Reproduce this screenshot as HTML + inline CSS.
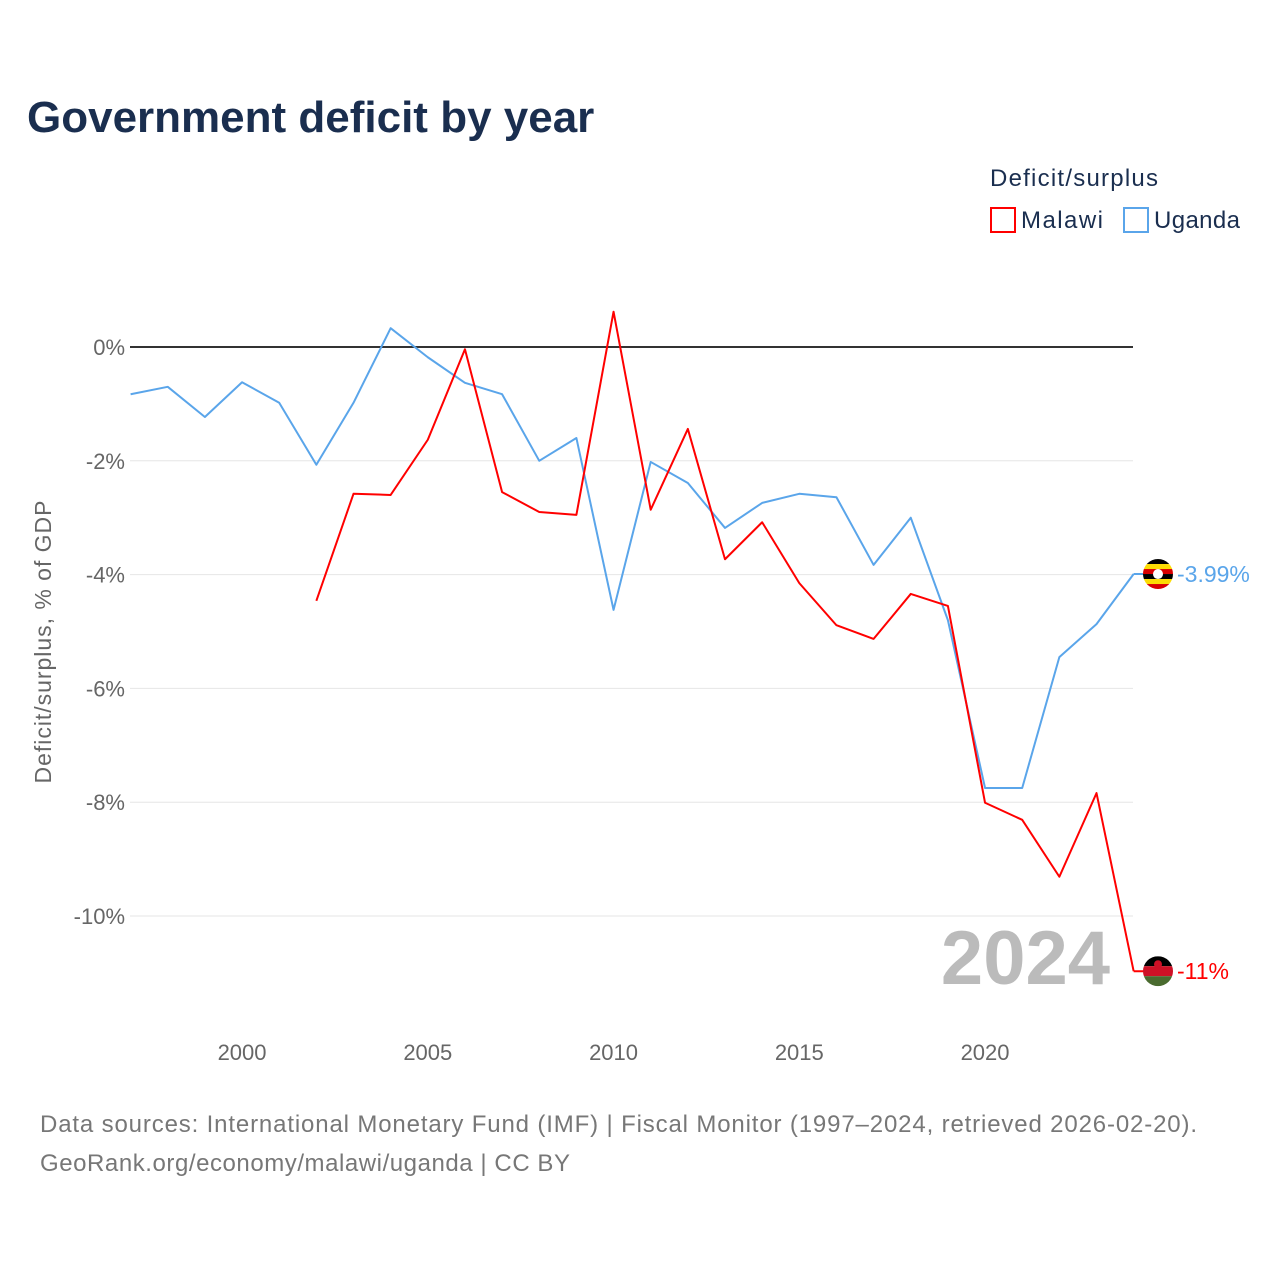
<!DOCTYPE html>
<html><head><meta charset="utf-8"><style>
body{margin:0;background:#fff;font-family:"Liberation Sans",sans-serif;}
svg text{font-family:"Liberation Sans",sans-serif;}
</style></head><body>
<svg id="chart" width="1280" height="1280" viewBox="0 0 1280 1280">
<text x="27" y="132" font-size="44" font-weight="bold" fill="#1a2e4f">Government deficit by year</text>
<text x="990" y="186" font-size="24" fill="#1a2e4f" textLength="168">Deficit/surplus</text>
<g><rect x="991" y="208" width="24" height="24" fill="none" stroke="#ff0000" stroke-width="2"/><text x="1021" y="228" font-size="24" fill="#1a2e4f" textLength="82">Malawi</text></g>
<g><rect x="1124" y="208" width="24" height="24" fill="none" stroke="#5aa5ea" stroke-width="2"/><text x="1154" y="228" font-size="24" fill="#1a2e4f" textLength="86">Uganda</text></g>
<text transform="translate(51,642) rotate(-90)" text-anchor="middle" font-size="23" fill="#666" textLength="283">Deficit/surplus, % of GDP</text>
<g id="grid"></g><g id="ticks"></g>
<text x="1110" y="984" text-anchor="end" font-size="76" font-weight="bold" fill="#bbb">2024</text>
<g id="series"></g>
<text x="40" y="1132" font-size="24" fill="#777" textLength="1157">Data sources: International Monetary Fund (IMF) | Fiscal Monitor (1997–2024, retrieved 2026-02-20).</text>
<text x="40" y="1171" font-size="24" fill="#777" textLength="530">GeoRank.org/economy/malawi/uganda | CC BY</text>
</svg>
<script>
const ugandaYears=[1997,1998,1999,2000,2001,2002,2003,2004,2005,2006,2007,2008,2009,2010,2011,2012,2013,2014,2015,2016,2017,2018,2019,2020,2021,2022,2023,2024];
const ugandaValues=[-0.83,-0.70,-1.23,-0.62,-0.98,-2.07,-0.98,0.33,-0.18,-0.63,-0.83,-2.0,-1.6,-4.62,-2.02,-2.39,-3.18,-2.74,-2.58,-2.64,-3.83,-3.0,-4.8,-7.75,-7.75,-5.45,-4.87,-3.99];
const malawiYears=[2002,2003,2004,2005,2006,2007,2008,2009,2010,2011,2012,2013,2014,2015,2016,2017,2018,2019,2020,2021,2022,2023,2024];
const malawiValues=[-4.46,-2.58,-2.6,-1.63,-0.04,-2.55,-2.9,-2.95,0.62,-2.86,-1.44,-3.73,-3.08,-4.15,-4.89,-5.13,-4.34,-4.55,-8.01,-8.31,-9.31,-7.84,-10.97];
const yTicks=[0,-2,-4,-6,-8,-10];
const xTicks=[2000,2005,2010,2015,2020];
const NS="http://www.w3.org/2000/svg";
const x=v=>130.6+(v-1997)*37.15;
const y=v=>347-v*56.9;
function mk(tag,attrs,parent){const e=document.createElementNS(NS,tag);for(const k in attrs)e.setAttribute(k,attrs[k]);parent.appendChild(e);return e;}
const grid=document.getElementById('grid'),ticks=document.getElementById('ticks'),series=document.getElementById('series');
yTicks.forEach(t=>{
 const l=mk('line',{x1:130,x2:1133,y1:y(t),y2:y(t),stroke:t===0?'#333':'#e6e6e6','stroke-width':t===0?2:1},grid);
 
 
 const tx=mk('text',{x:125,y:y(t)+8,'text-anchor':'end','font-size':22,fill:'#666'},ticks);
 tx.textContent=t+'%';
 
 
});
xTicks.forEach(t=>{
 const tx=mk('text',{x:x(t),y:1060,'text-anchor':'middle','font-size':22,fill:'#666'},ticks);
 tx.textContent=t;
 
 
});
function draw(years,vals,color,name,label){
 const pts=years.map((yr,i)=>x(yr)+','+y(vals[i])).join(' ');
 const pl=mk('polyline',{points:pts,fill:'none',stroke:color,'stroke-width':2,'stroke-linejoin':'round'},series);
 
 
 const lv=vals[vals.length-1],ly=y(lv),lx=x(years[years.length-1]);
 mk('line',{x1:lx,x2:1150,y1:ly,y2:ly,stroke:color,'stroke-width':2},series);
 const g=mk('g',{},series);
 
 
 if(name==='uganda'){
  const cols=['#000','#fcdc04','#d90000','#000','#fcdc04','#d90000'];
  mk('clipPath',{id:'cu'},g);mk('circle',{cx:1158,cy:ly,r:15},g.lastChild);
  const gg=mk('g',{'clip-path':'url(#cu)'},g);
  cols.forEach((c,i)=>mk('rect',{x:1143,y:ly-15+i*5,width:30,height:5,fill:c},gg));
  mk('circle',{cx:1158,cy:ly,r:5,fill:'#fff'},gg);
 }else{
  mk('clipPath',{id:'cm'},g);mk('circle',{cx:1158,cy:ly,r:15},g.lastChild);
  const gg=mk('g',{'clip-path':'url(#cm)'},g);
  ['#000','#ce1126','#4a6b2f'].forEach((c,i)=>mk('rect',{x:1143,y:ly-15+i*10,width:30,height:10,fill:c},gg));
  mk('circle',{cx:1158,cy:ly-7,r:4,fill:'#ce1126'},gg);
 }
 const t=mk('text',{x:1177,y:ly+8,'font-size':23,fill:color},series);
 t.textContent=label;
 
 
}
draw(ugandaYears,ugandaValues,'#5aa5ea','uganda','-3.99%');
draw(malawiYears,malawiValues,'#ff0000','malawi','-11%');
</script>
</body></html>
